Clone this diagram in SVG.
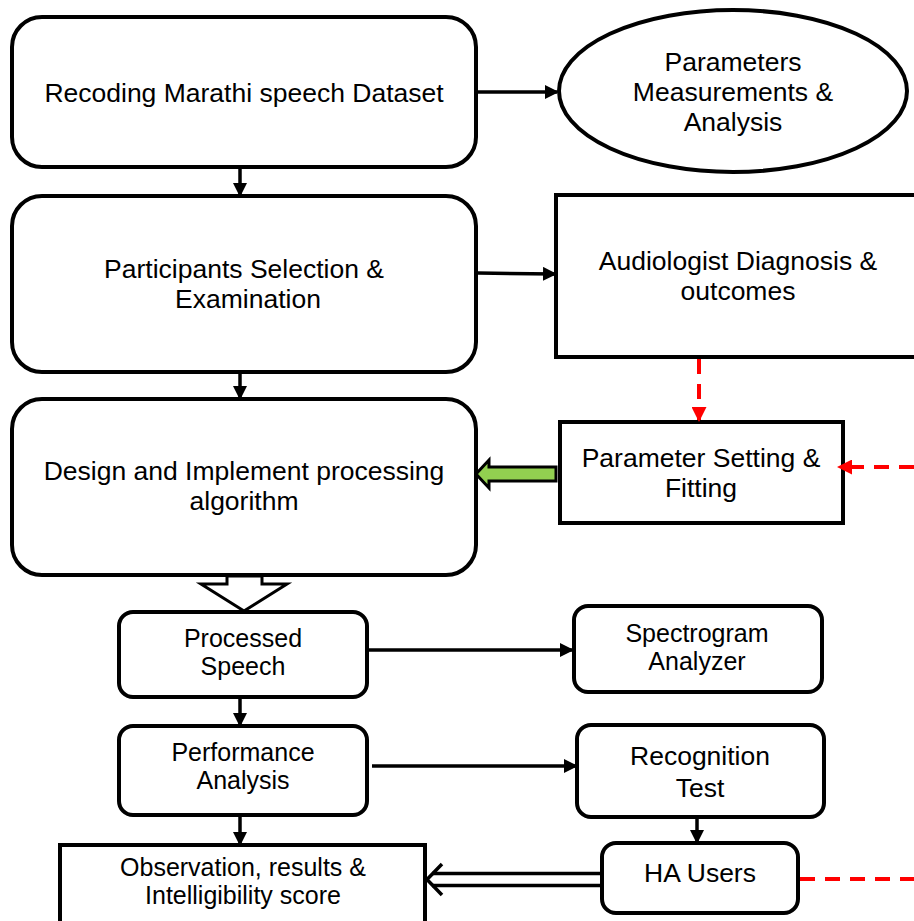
<svg xmlns="http://www.w3.org/2000/svg" width="914" height="921" viewBox="0 0 914 921">
<defs>
<style>
.box{fill:#fff;stroke:#000;stroke-width:4}
.t{font-family:"Liberation Sans",Arial,sans-serif;font-size:26.5px;fill:#000;text-anchor:middle}
.s{font-size:25px}
.ln{stroke:#000;stroke-width:3.5;fill:none}
.rd{stroke:#ff0000;stroke-width:4;fill:none;stroke-dasharray:15 10}
</style>
<marker id="ah" viewBox="0 0 14 14" refX="12" refY="7" markerWidth="14" markerHeight="14" markerUnits="userSpaceOnUse" orient="auto">
<path d="M0,0 L14,7 L0,14 z" fill="#000"/>
</marker>
<marker id="rh" viewBox="0 0 15 15" refX="13" refY="7.5" markerWidth="15" markerHeight="15" markerUnits="userSpaceOnUse" orient="auto">
<path d="M0,0 L15,7.5 L0,15 z" fill="#ff0000"/>
</marker>
</defs>
<rect width="914" height="921" fill="#fff"/>

<g id="recording">
<rect class="box" x="12" y="17" width="464" height="150" rx="30"/>
<text class="t" x="244" y="102">Recoding Marathi speech Dataset</text>
</g>
<g id="parameters">
<ellipse class="box" cx="733" cy="91" rx="174" ry="81"/>
<text class="t" x="733" y="71">Parameters</text>
<text class="t" x="733" y="101">Measurements &amp;</text>
<text class="t" x="733" y="131">Analysis</text>
</g>
<g id="participants">
<rect class="box" x="12" y="196" width="464" height="176" rx="30"/>
<text class="t" x="244" y="278">Participants Selection &amp;</text>
<text class="t" x="248" y="308">Examination</text>
</g>
<g id="audiologist">
<rect class="box" x="556" y="195" width="370" height="162"/>
<text class="t" x="738" y="270">Audiologist Diagnosis &amp;</text>
<text class="t" x="738" y="300">outcomes</text>
</g>
<g id="design">
<rect class="box" x="12" y="399" width="464" height="176" rx="30"/>
<text class="t" x="244" y="480">Design and Implement processing</text>
<text class="t" x="244" y="510">algorithm</text>
</g>
<g id="paramsetting">
<rect class="box" x="560" y="422" width="283" height="101"/>
<text class="t" x="701" y="467">Parameter Setting &amp;</text>
<text class="t" x="701" y="497">Fitting</text>
</g>
<g id="processed">
<rect class="box" x="119" y="612" width="248" height="85" rx="14"/>
<text class="t s" x="243" y="647">Processed</text>
<text class="t s" x="243" y="675">Speech</text>
</g>
<g id="spectrogram">
<rect class="box" x="574" y="606" width="248" height="86" rx="14"/>
<text class="t s" x="697" y="642">Spectrogram</text>
<text class="t s" x="697" y="670">Analyzer</text>
</g>
<g id="performance">
<rect class="box" x="119" y="726" width="248" height="89" rx="14"/>
<text class="t s" x="243" y="761">Performance</text>
<text class="t s" x="243" y="789">Analysis</text>
</g>
<g id="recognition">
<rect class="box" x="577" y="725" width="247" height="92" rx="14"/>
<text class="t" x="700" y="765">Recognition</text>
<text class="t" x="700" y="797">Test</text>
</g>
<g id="hausers">
<rect class="box" x="602" y="843" width="196" height="70" rx="14"/>
<text class="t" x="700" y="882">HA Users</text>
</g>
<g id="observation">
<rect class="box" x="60" y="845" width="365" height="90"/>
<text class="t s" x="243" y="876">Observation, results &amp;</text>
<text class="t s" x="243" y="904">Intelligibility score</text>
</g>

<g id="connectors">
<line class="ln" x1="478" y1="92" x2="557" y2="92" marker-end="url(#ah)"/>
<line class="ln" x1="240" y1="169" x2="240" y2="195" marker-end="url(#ah)"/>
<line class="ln" x1="478" y1="273" x2="555" y2="274" marker-end="url(#ah)"/>
<line class="ln" x1="240" y1="374" x2="240" y2="398" marker-end="url(#ah)"/>
<line class="rd" x1="699" y1="359" x2="699" y2="420" marker-end="url(#rh)"/>
<line class="rd" x1="914" y1="467" x2="839" y2="467" marker-end="url(#rh)"/>
<polygon points="556,467 489,467 489,460 476,474 489,488 489,481 556,481" fill="#92d050" stroke="#000" stroke-width="3"/>
<polygon points="227,576 262,576 262,584 287,584 244,611 201,584 227,584" fill="#fff" stroke="#000" stroke-width="3"/>
<line class="ln" x1="367" y1="650" x2="572" y2="650" marker-end="url(#ah)"/>
<line class="ln" x1="240" y1="698" x2="240" y2="725" marker-end="url(#ah)"/>
<line class="ln" x1="372" y1="766" x2="576" y2="766" marker-end="url(#ah)"/>
<line class="ln" x1="240" y1="816" x2="240" y2="844" marker-end="url(#ah)"/>
<line class="ln" x1="697" y1="818" x2="697" y2="842" marker-end="url(#ah)"/>
<line class="ln" x1="432" y1="873.5" x2="602" y2="873.5"/>
<line class="ln" x1="432" y1="885.5" x2="602" y2="885.5"/>
<polyline class="ln" points="442,864 427,879.5 442,895"/>
<line class="rd" x1="800" y1="879" x2="914" y2="879"/>
</g>
</svg>
